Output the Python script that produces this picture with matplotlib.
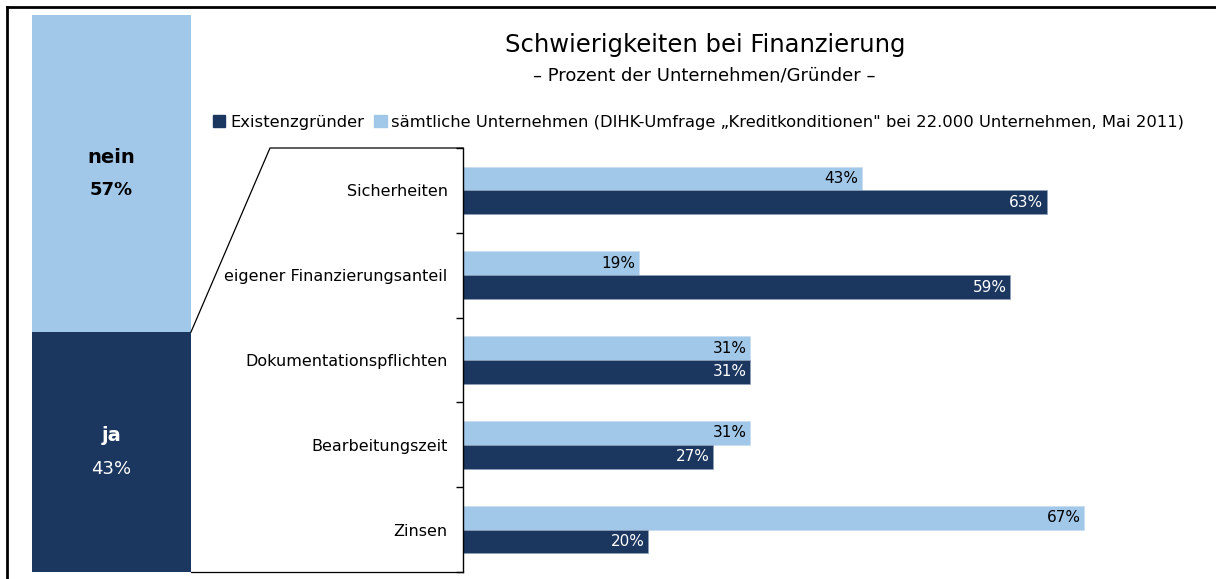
import numpy as np
import matplotlib.pyplot as plt
from matplotlib.patches import Patch
from matplotlib.lines import Line2D

# data
kategorien = ["Sicherheiten", "eigener Finanzierungsanteil", "Dokumentationspflichten",
              "Bearbeitungszeit", "Zinsen"]
gruender = [63, 59, 31, 27, 20]
alle = [43, 19, 31, 31, 67]
anteil_labels = ["ja", "nein"]
anteil_werte = [43, 57]

dunkel = "#1B365F"
hell = "#A2C8E9"

W, H = 1216, 579
fig = plt.figure(figsize=(W / 100, H / 100), dpi=100)
plt.rcParams['font.family'] = ['DejaVu Sans']


def fx(px):
    return px / W


def fy(py):
    return 1 - py / H


# stacked bar links
ax0 = fig.add_axes([fx(32), fy(572), fx(191) - fx(32), fy(15) - fy(572)])
ax0.bar(0, anteil_werte[0], width=1, color=dunkel)
ax0.bar(0, anteil_werte[1], width=1, bottom=anteil_werte[0], color=hell)
ax0.set_xlim(-0.5, 0.5)
ax0.set_ylim(0, 100)
ax0.axis("off")
ax0.text(0, anteil_werte[0] / 2 + 3, anteil_labels[0], ha="center", va="center",
         color="white", fontsize=14, fontweight="bold")
ax0.text(0, anteil_werte[0] / 2 - 3, f"{anteil_werte[0]}%", ha="center", va="center",
         color="white", fontsize=13)
ax0.text(0, anteil_werte[0] + anteil_werte[1] / 2 + 3, anteil_labels[1], ha="center",
         va="center", color="black", fontsize=14, fontweight="bold")
ax0.text(0, anteil_werte[0] + anteil_werte[1] / 2 - 3, f"{anteil_werte[1]}%", ha="center",
         va="center", color="black", fontsize=13, fontweight="bold")

# balken rechts
ax = fig.add_axes([fx(463), fy(572), fx(1190) - fx(463), fy(148) - fy(572)])
y = np.arange(len(kategorien))
h = 0.28
b1 = ax.barh(y - h / 2, alle, height=h, color=hell, edgecolor="#c8dcf0", linewidth=0.5)
b2 = ax.barh(y + h / 2, gruender, height=h, color=dunkel, edgecolor="#8fa0b8", linewidth=0.5)
for r, v in zip(b1, alle):
    ax.text(v - 0.4, r.get_y() + r.get_height() / 2, f"{v}%", ha="right", va="center",
            fontsize=11, color="black")
for r, v in zip(b2, gruender):
    ax.text(v - 0.4, r.get_y() + r.get_height() / 2, f"{v}%", ha="right", va="center",
            fontsize=11, color="white")
ax.set_xlim(0, 78.4)
ax.set_ylim(len(kategorien) - 0.5, -0.5)
ax.set_yticks(y)
ax.set_yticklabels(kategorien, fontsize=11.5)
ax.tick_params(axis="y", which="major", length=0, pad=11)
ax.set_yticks(np.arange(-0.5, len(kategorien)), minor=True)
ax.tick_params(axis="y", which="minor", length=5, width=1)
ax.set_xticks([])
for s in ["top", "right", "bottom"]:
    ax.spines[s].set_visible(False)
ax.spines["left"].set_linewidth(1)

# verbindungslinien
fig.add_artist(Line2D([fx(191), fx(270), fx(463)], [fy(332), fy(148), fy(148)],
                      color="black", lw=0.9))
fig.add_artist(Line2D([fx(191), fx(463)], [fy(572), fy(572)], color="black", lw=0.9))

# rahmen
fig.add_artist(Line2D([fx(7), fx(7)], [fy(7), 0], color="black", lw=2))
fig.add_artist(Line2D([fx(7), 1], [fy(7), fy(7)], color="black", lw=2))

# titel
fig.text(fx(705), fy(45), "Schwierigkeiten bei Finanzierung", ha="center", va="center",
         fontsize=17.5)
fig.text(fx(704), fy(76), "– Prozent der Unternehmen/Gründer –", ha="center", va="center",
         fontsize=13)

handles = [Patch(color=dunkel), Patch(color=hell)]
labels = ["Existenzgründer",
          "sämtliche Unternehmen (DIHK-Umfrage „Kreditkonditionen\" bei 22.000 Unternehmen, Mai 2011)"]
fig.legend(handles, labels, loc="center left", bbox_to_anchor=(fx(205), fy(122)),
           ncol=2, frameon=False, fontsize=11.8, handlelength=0.75, handleheight=0.75,
           handletextpad=0.3, columnspacing=0.6, borderpad=0)

fig.savefig("out.png", dpi=100)
